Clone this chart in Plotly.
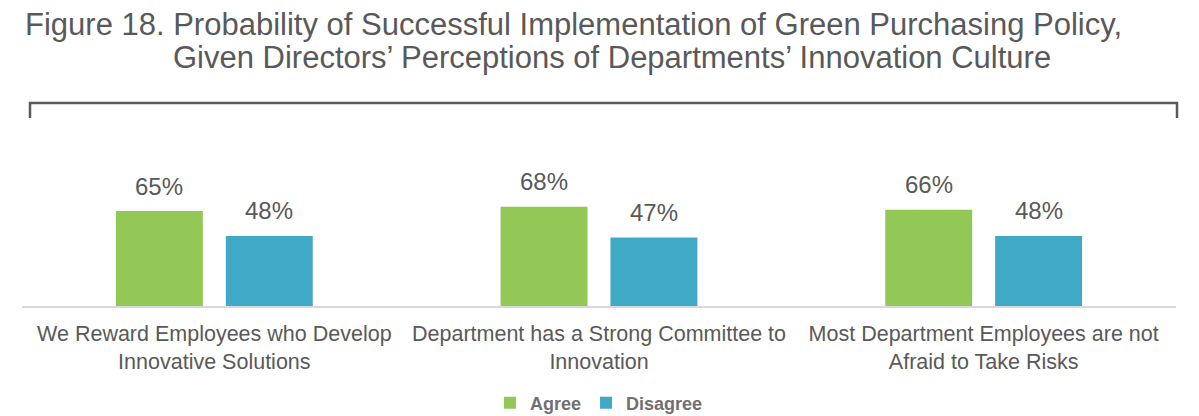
import plotly.graph_objects as go

categories = ["We Reward Employees who Develop<br>Innovative Solutions",
              "Department has a Strong Committee to<br>Innovation",
              "Most Department Employees are not<br>Afraid to Take Risks"]
agree = [65, 68, 66]
disagree = [48, 47, 48]
series_names = ["Agree", "Disagree"]
colors = ["#92C856", "#40A9C6"]
text_color = "#595959"
font_family = "Arial"

fig = go.Figure()
for name, vals, col in zip(series_names, [agree, disagree], colors):
    fig.add_trace(go.Bar(name=name, x=categories, y=vals, marker_color=col,
                         marker_line_width=0))

# data labels
for vals, shift in zip([agree, disagree], [-55, 55]):
    for c, v in zip(categories, vals):
        fig.add_annotation(x=c, y=v, text=f"{v}%", showarrow=False,
                           xshift=shift, yshift=25, yanchor="middle",
                           font=dict(size=24, color=text_color, family=font_family))

# Title (two centered lines)
fig.add_annotation(xref="paper", yref="paper", x=0.478, y=1.925, text="Figure 18. Probability of Successful Implementation of Green Purchasing Policy,",
                   showarrow=False, xanchor="center", yanchor="middle",
                   font=dict(size=31, color=text_color, family=font_family))
fig.add_annotation(xref="paper", yref="paper", x=0.511, y=1.705, text="Given Directors’ Perceptions of Departments’ Innovation Culture",
                   showarrow=False, xanchor="center", yanchor="middle",
                   font=dict(size=31, color=text_color, family=font_family))

# bracket
x0, x1 = (30 - 22) / 1154, (1177 - 22) / 1154
ytop, ybot = (306 - 103) / 146, (306 - 118) / 146
fig.add_shape(type="path", xref="paper", yref="paper",
              path=f"M {x0} {ybot} L {x0} {ytop} L {x1} {ytop} L {x1} {ybot}",
              line=dict(color="#595959", width=2.5))

fig.update_layout(
    width=1191, height=408,
    margin=dict(l=14, r=23, t=152, b=110, autoexpand=False),
    plot_bgcolor="white", paper_bgcolor="white",
    barmode="group", bargap=0.4286, bargroupgap=0.209,
    font=dict(family=font_family, color=text_color),
    showlegend=True,
    legend=dict(orientation="h", x=0.5, xanchor="center", y=-0.664, yanchor="middle",
                font=dict(size=18, color="#707070", family=font_family, weight="bold"),
                itemwidth=30),
    xaxis=dict(showline=True, linecolor="#D9D9D9", linewidth=2, ticks="", automargin=False,
               ticklabelstandoff=7,
               tickfont=dict(size=21.5, color=text_color), showgrid=False),
    yaxis=dict(range=[0, 100], visible=False, showgrid=False, automargin=False),
)

fig.write_html("out.html")
